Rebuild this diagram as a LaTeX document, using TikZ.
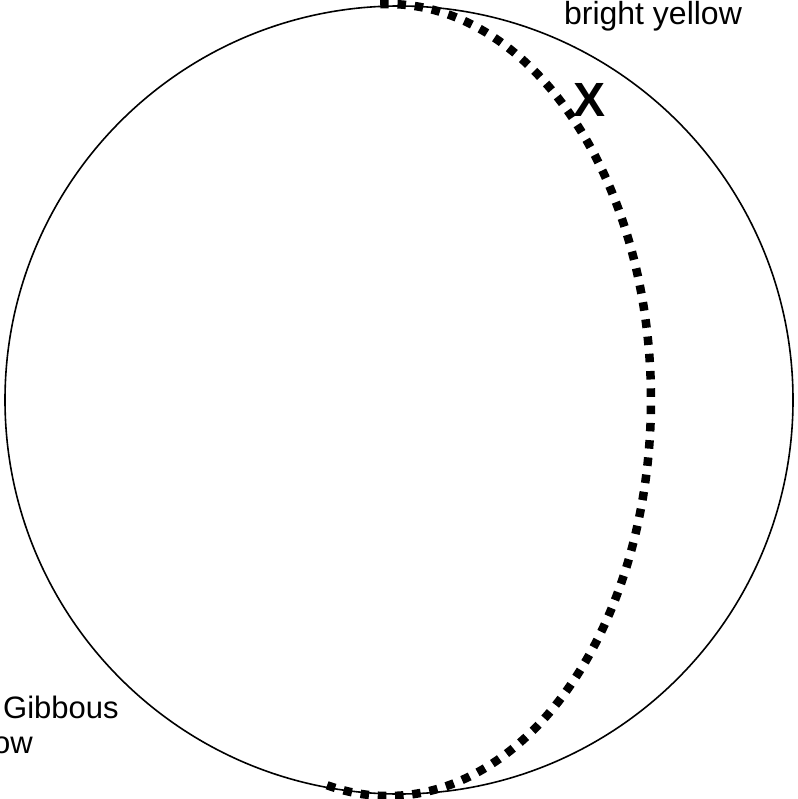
\documentclass[tikz,border=0pt]{standalone}
\usepackage{fontspec}
\setmainfont{Liberation Sans}
\begin{document}
\begin{tikzpicture}[x=1pt,y=-1pt,
  lbl/.style={font=\fontsize{31}{37}\selectfont, inner sep=0pt},
  xlabel/.style={font=\bfseries\fontsize{48}{52}\selectfont, inner sep=0pt},
  term/.style={line width=8.5pt, dash pattern=on 8.5pt off 8.8pt},
  disk/.style={circle, draw, line width=1.6pt, inner sep=0pt, minimum size=788pt}]
\useasboundingbox (0,0) rectangle (797,799);
\node[disk] (moon) at (399,400) {};
\coordinate (ts) at (380.2,4.2);
\draw[term] (ts) arc[start angle=91.7, end angle=-104, x radius=263pt, y radius=396pt];
\node[xlabel] (x) at (589,100) {X};
\node[lbl, anchor=base, font=\fontsize{32}{38}\selectfont] (by) at (653,25) {bright yellow};
\node[lbl, anchor=base west] (gib) at (3,718) {Gibbous};
\node[lbl, anchor=base east] (ow) at (33,753) {ow};
\end{tikzpicture}
\end{document}
